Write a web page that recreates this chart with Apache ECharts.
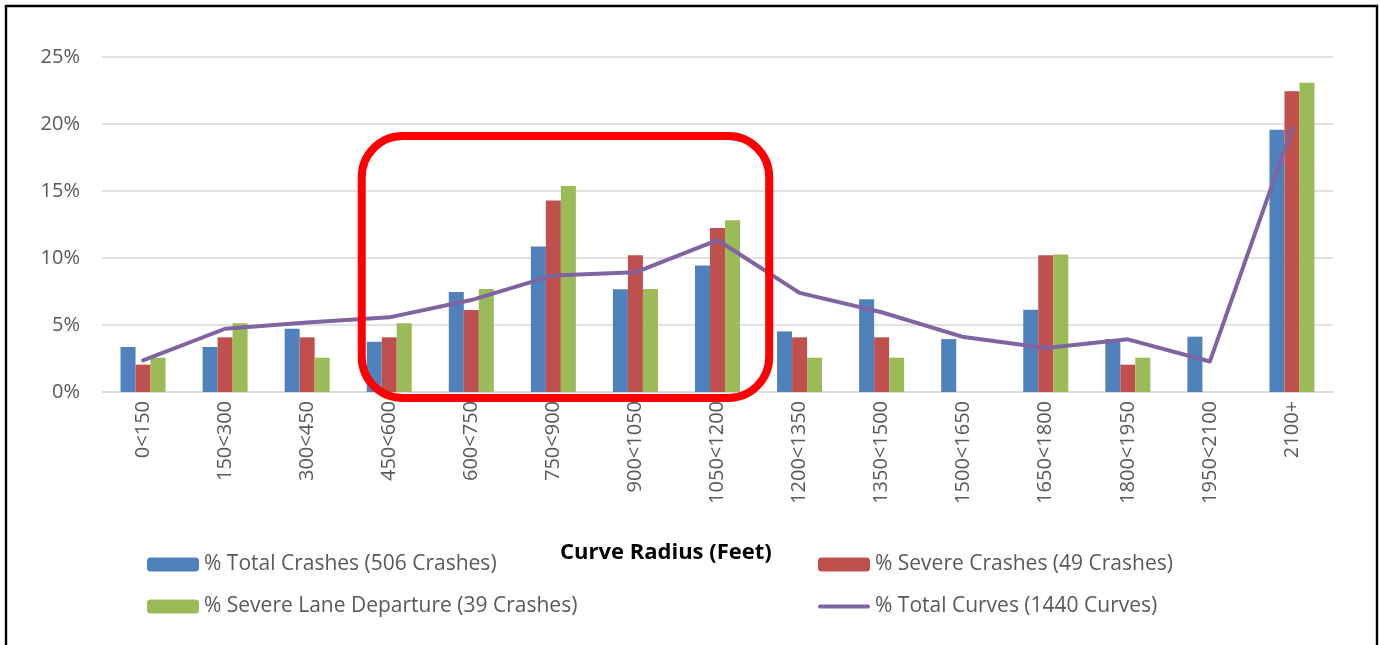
<!DOCTYPE html>
<html>
<head>
<meta charset="utf-8">
<script src="https://cdn.jsdelivr.net/npm/echarts@6/dist/echarts.min.js"></script>
<style>html,body{margin:0;padding:0;background:#fff;}#c{width:1380px;height:645px;}</style>
</head>
<body>
<div id="c"></div>
<script>
// ---- Data ----
var categories = ['0<150','150<300','300<450','450<600','600<750','750<900','900<1050','1050<1200','1200<1350','1350<1500','1500<1650','1650<1800','1800<1950','1950<2100','2100+'];
var totalCrashes   = [3.36, 3.36, 4.72, 3.75, 7.47, 10.86, 7.66, 9.44, 4.52, 6.93, 3.95, 6.13, 3.95, 4.13, 19.57];
var severeCrashes  = [2.04, 4.08, 4.08, 4.08, 6.12, 14.29, 10.20, 12.24, 4.08, 4.08, 0, 10.20, 2.04, 0, 22.45];
var severeLaneDep  = [2.56, 5.13, 2.56, 5.13, 7.69, 15.38, 7.69, 12.82, 2.56, 2.56, 0, 10.26, 2.56, 0, 23.08];
var totalCurves    = [2.36, 4.72, 5.19, 5.57, 6.86, 8.70, 8.93, 11.34, 7.40, 5.95, 4.10, 3.28, 3.93, 2.28, 19.65];
var seriesNames = ['% Total Crashes (506 Crashes)','% Severe Crashes (49 Crashes)','% Severe Lane Departure (39 Crashes)','% Total Curves (1440 Curves)'];
var yTicks = [0, 5, 10, 15, 20, 25];
var axisTitle = 'Curve Radius (Feet)';
// highlighted range (annotation box): first and last highlighted categories
var highlightFrom = '450<600', highlightTo = '1050<1200';

var FONT = '"Open Sans", sans-serif';
var TXT = '#595959';
var chart = echarts.init(document.getElementById('c'), null, {renderer: 'canvas'});

var option = {
  animation: false,
  backgroundColor: '#fff',
  grid: {left: 102, right: 47, top: 57, bottom: 253, containLabel: false},
  xAxis: {
    type: 'category',
    data: categories,
    axisLine: {lineStyle: {color: '#D9D9D9', width: 1.5}},
    axisTick: {show: false},
    axisLabel: {rotate: 90, margin: 9, color: TXT, fontFamily: FONT, fontSize: 20}
  },
  yAxis: {
    type: 'value',
    min: yTicks[0], max: yTicks[yTicks.length - 1], interval: 5,
    axisLine: {show: false},
    axisTick: {show: false},
    splitLine: {lineStyle: {color: '#D9D9D9', width: 1.5}},
    axisLabel: {margin: 22, color: TXT, fontFamily: FONT, fontSize: 20, formatter: '{value}%'}
  },
  legend: [
    {
      orient: 'vertical', left: 147, top: 554, itemWidth: 52, itemHeight: 14, itemGap: 21,
      padding: 0,
      textStyle: {color: TXT, fontFamily: FONT, fontSize: 21, lineHeight: 21},
      data: [seriesNames[0], seriesNames[2]]
    },
    {
      orient: 'vertical', left: 818, top: 554, itemWidth: 52, itemHeight: 14, itemGap: 21,
      padding: 0,
      textStyle: {color: TXT, fontFamily: FONT, fontSize: 21, lineHeight: 21},
      data: [seriesNames[1], {name: seriesNames[3], icon: 'path://M2,0L50,0A2,2 0 0 1 50,4L2,4A2,2 0 0 1 2,0Z', itemStyle: {color: '#8064A2'}}]
    }
  ],
  series: [
    {name: seriesNames[0], type: 'bar', data: totalCrashes, barWidth: 15, barGap: '0%', itemStyle: {color: '#4F81BD'}},
    {name: seriesNames[1], type: 'bar', data: severeCrashes, barWidth: 15, barGap: '0%', itemStyle: {color: '#C0504D'}},
    {name: seriesNames[2], type: 'bar', data: severeLaneDep, barWidth: 15, barGap: '0%', itemStyle: {color: '#9BBB59'}},
    {name: seriesNames[3], type: 'line', data: totalCurves, symbol: 'none', z: 5,
     lineStyle: {color: '#8064A2', width: 4, cap: 'round', join: 'round'}, itemStyle: {color: '#8064A2'}}
  ]
};
chart.setOption(option);

// annotation box around the highlighted categories, positioned via the chart's own scales
var p0 = chart.convertToPixel({gridIndex: 0}, [highlightFrom, 19.1]);
var p1 = chart.convertToPixel({gridIndex: 0}, [highlightTo, -0.45]);
var halfBand = (chart.convertToPixel({gridIndex: 0}, [categories[1], 0])[0] - chart.convertToPixel({gridIndex: 0}, [categories[0], 0])[0]) / 2;
var bx = p0[0] - halfBand * 0.67, bx2 = p1[0] + halfBand * 1.26;
chart.setOption({
  graphic: [
    {type: 'rect', silent: true, z: 100,
     shape: {x: 6, y: 6, width: 1371, height: 720},
     style: {fill: 'none', stroke: '#000', lineWidth: 2.4}},
    {type: 'rect', silent: true, z: 100,
     shape: {x: bx, y: p0[1], width: bx2 - bx, height: p1[1] - p0[1], r: 41},
     style: {fill: 'none', stroke: '#FF0000', lineWidth: 8}},
    {type: 'text', silent: true, z: 100, x: 560, y: 553,
     style: {text: axisTitle, fill: '#000', font: 'bold 22px "Open Sans", sans-serif', verticalAlign: 'middle', align: 'left'}}
  ]
});
</script>
</body>
</html>
